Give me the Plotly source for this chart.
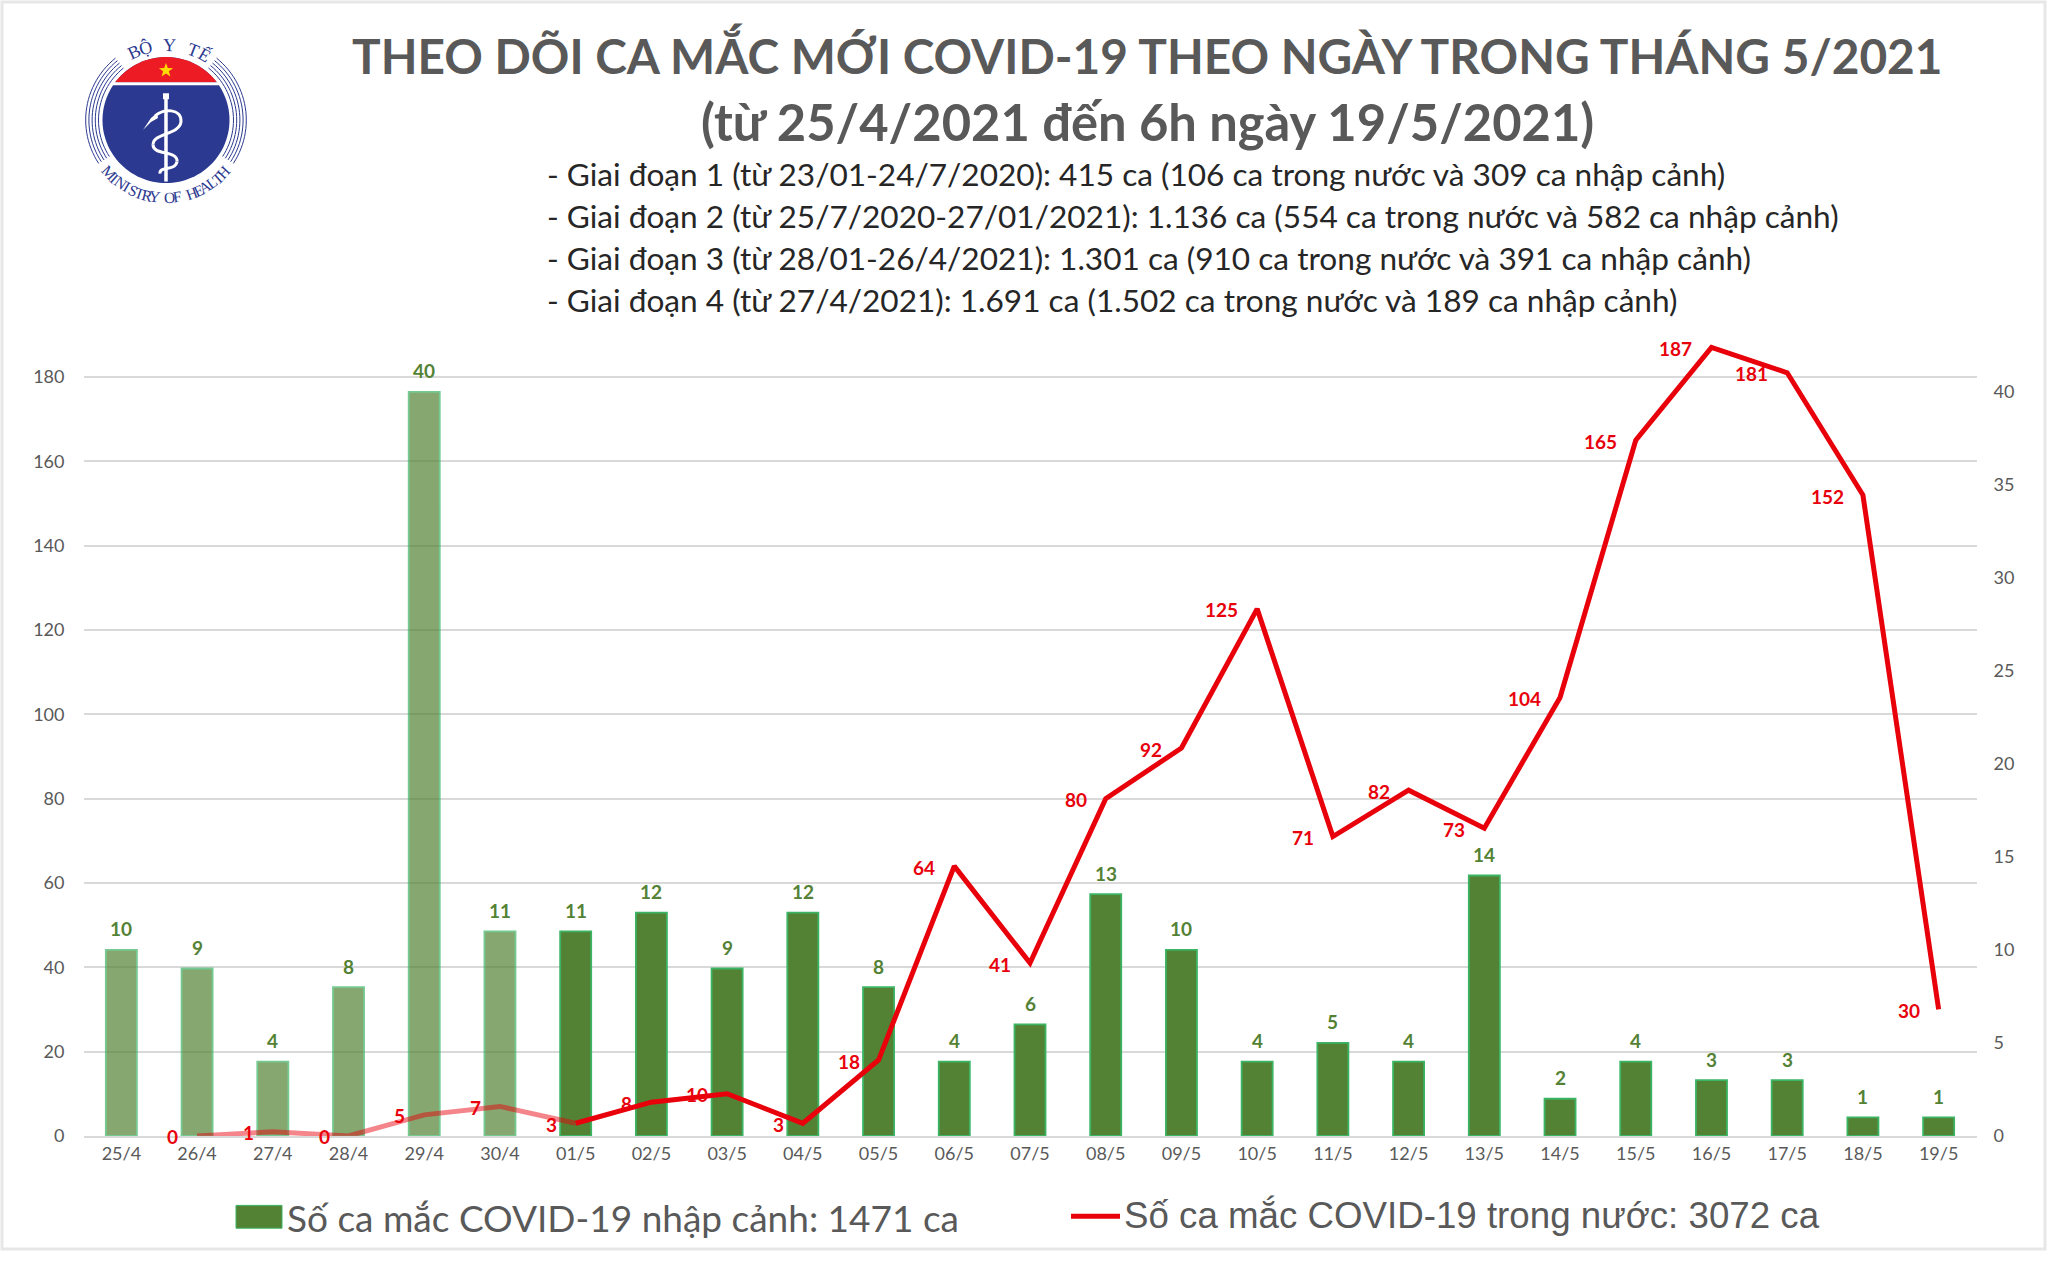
import math
import plotly.graph_objects as go

W, H = 2048, 1263

days = ['25/4', '26/4', '27/4', '28/4', '29/4', '30/4', '01/5', '02/5', '03/5', '04/5', '05/5', '06/5', '07/5',
        '08/5', '09/5', '10/5', '11/5', '12/5', '13/5', '14/5', '15/5', '16/5', '17/5', '18/5', '19/5']
nhap_canh = [10, 9, 4, 8, 40, 11, 11, 12, 9, 12, 8, 4, 6, 13, 10, 4, 5, 4, 14, 2, 4, 3, 3, 1, 1]
trong_nuoc = [None, 0, 1, 0, 5, 7, 3, 8, 10, 3, 18, 64, 41, 80, 92, 125, 71, 82, 73, 104, 165, 187, 181, 152, 30]
n_faded = 6  # first days are washed out in the original

left_ticks = list(range(0, 181, 20))
right_ticks = list(range(0, 41, 5))

title_lines = ['THEO DÕI CA MẮC MỚI COVID-19 THEO NGÀY TRONG THÁNG 5/2021',
               '(từ 25/4/2021 đến 6h ngày 19/5/2021)']
giai_doan = ['- Giai đoạn 1 (từ 23/01-24/7/2020): 415 ca (106 ca trong nước và 309 ca nhập cảnh)',
             '- Giai đoạn 2 (từ 25/7/2020-27/01/2021): 1.136 ca (554 ca trong nước và 582 ca nhập cảnh)',
             '- Giai đoạn 3 (từ 28/01-26/4/2021): 1.301 ca (910 ca trong nước và 391 ca nhập cảnh)',
             '- Giai đoạn 4 (từ 27/4/2021): 1.691 ca (1.502 ca trong nước và 189 ca nhập cảnh)']
legend_bar = 'Số ca mắc COVID-19 nhập cảnh: 1471 ca'
legend_line = 'Số ca mắc COVID-19 trong nước: 3072 ca'
logo_top = 'BỘ Y TẾ'
logo_bottom = 'MINISTRY OF HEALTH'

GREEN = '#548235'
EDGE = '#3BB463'
RED = '#E8000B'
GREY = '#595959'
NAVY = '#2B3990'
FONT = 'Lato'


def px(x):
    return x / W


def py(y):
    return 1 - y / H


def text(x, y, s, size, color=GREY, bold=False, anchor='left', family=FONT, angle=0):
    fig.add_annotation(xref='paper', yref='paper', x=px(x), y=py(y), text=s, showarrow=False, xanchor=anchor,
                       yanchor='middle', textangle=angle,
                       font=dict(family=family, size=size, color=color, weight='bold' if bold else 'normal'))


def path(points, close=False):
    s = 'M' + ' L'.join('%.5f,%.5f' % (px(x), py(y)) for x, y in points)
    return s + (' Z' if close else '')


def curve(start, a, b, c):
    # cubic bezier, pixel coordinates
    return 'M%.5f,%.5f C%.5f,%.5f %.5f,%.5f %.5f,%.5f' % (px(start[0]), py(start[1]), px(a[0]), py(a[1]),
                                                         px(b[0]), py(b[1]), px(c[0]), py(c[1]))


def logo(cx, cy, r):
    def shape(p, fill=None, line=None, width=1):
        fig.add_shape(type='path', xref='paper', yref='paper', path=p, fillcolor=fill,
                      line=dict(color=line, width=width if line else 0))

    # dia xanh
    circle = [(cx + r * math.cos(math.radians(a)), cy - r * math.sin(math.radians(a))) for a in range(0, 360, 3)]
    shape(path(circle, True), fill=NAVY)
    # nap do phia tren
    h = 38
    a0 = math.degrees(math.asin(h / r))
    cap = [(cx + r * math.cos(math.radians(a)), cy - r * math.sin(math.radians(a)))
           for a in [a0 + i * (180 - 2 * a0) / 40 for i in range(41)]]
    shape(path(cap, True), fill='#ED1C24')
    half = math.sqrt(r * r - 36.5 * 36.5)
    shape(path([(cx - half - 1, cy - 36.5), (cx + half + 1, cy - 36.5)]), line='white', width=3)
    # ngoi sao
    star = []
    for i in range(10):
        rr = 7.5 if i % 2 == 0 else 3
        a = math.radians(90 + i * 36)
        star.append((cx + rr * math.cos(a), cy - 50 - rr * math.sin(a)))
    shape(path(star, True), fill='#FFDD00')
    # cac vong cung hai ben
    for k in range(5):
        rr = r + 4 + k * 3.2
        left = [(cx + rr * math.cos(math.radians(a)), cy - rr * math.sin(math.radians(a))) for a in range(129, 215, 3)]
        right = [(2 * cx - x, y) for x, y in left]
        shape(path(left), line=NAVY, width=1)
        shape(path(right), line=NAVY, width=1)
    # gay va ran
    shape(path([(cx, cy - 25), (cx, cy + 62)]), line='white', width=3.5)
    shape(path([(cx, cy - 27), (cx, cy - 21)]), line='white', width=6)
    shape(curve((cx - 11, cy - 4), (cx - 3, cy - 12), (cx + 16, cy - 12), (cx + 15, cy + 2)),
          line='white', width=3)
    shape(curve((cx + 15, cy + 2), (cx + 13, cy + 15), (cx - 13, cy + 13), (cx - 13, cy + 25)),
          line='white', width=3)
    shape(curve((cx - 13, cy + 25), (cx - 13, cy + 36), (cx + 12, cy + 30), (cx + 11, cy + 42)),
          line='white', width=3)
    shape(curve((cx + 11, cy + 42), (cx + 9, cy + 52), (cx - 7, cy + 46), (cx - 6, cy + 54)),
          line='white', width=3)
    shape(path([(cx - 23, cy + 10), (cx - 15, cy - 2), (cx - 9, cy - 7), (cx - 8, cy - 2), (cx - 15, cy + 2)], True),
          fill='white')
    # chu cong theo vong tron
    for i, ch in enumerate(logo_top):
        a = -25 + i * 9.2
        x = cx + 76 * math.sin(math.radians(a))
        y = cy - 76 * math.cos(math.radians(a))
        text(x, y, ch, 18, color=NAVY, anchor='center', family='Liberation Serif', angle=a)
    n = len(logo_bottom)
    for i, ch in enumerate(logo_bottom):
        a = -47 + i * 94 / (n - 1)
        x = cx + 78 * math.sin(math.radians(a))
        y = cy + 78 * math.cos(math.radians(a))
        text(x, y, ch, 15.5, color=NAVY, anchor='center', family='Liberation Serif', angle=-a)


fig = go.Figure()

# trace an chi de giu truc y goc (luoi + nhan ben trai) phia duoi cot
fig.add_trace(go.Scatter(x=days, y=trong_nuoc, mode='lines', showlegend=False, hoverinfo='skip',
                         line=dict(color='rgba(0,0,0,0)', width=0)))
fig.add_trace(go.Bar(x=days, y=nhap_canh, yaxis='y2', width=0.41, showlegend=False,
                     marker=dict(color=GREEN, line=dict(color=EDGE, width=1.8),
                                 opacity=[0.7 if i < n_faded else 1 for i in range(len(days))])))
fig.add_trace(go.Scatter(x=days[:n_faded + 1], y=trong_nuoc[:n_faded + 1], mode='lines', showlegend=False, yaxis='y3',
                         line=dict(color='rgba(232,0,11,0.48)', width=5)))
fig.add_trace(go.Scatter(x=days[n_faded:], y=trong_nuoc[n_faded:], mode='lines', showlegend=False, yaxis='y3',
                         line=dict(color=RED, width=5)))

for d, v in zip(days, nhap_canh):
    fig.add_annotation(x=d, y=v, yref='y2', text=str(v), showarrow=False, yshift=21,
                       font=dict(family=FONT, size=19, color=GREEN, weight='bold'))
for d, v in zip(days, trong_nuoc):
    if v is not None:
        fig.add_annotation(x=d, y=v, yref='y3', text=str(v), showarrow=False, xanchor='right', xshift=-17, yshift=-1,
                           font=dict(family=FONT, size=19, color=RED, weight='bold'))

# thong ke o dau trang
text(1147, 54, title_lines[0], 47.8, bold=True, anchor='center')
text(1147, 122, title_lines[1], 50.7, bold=True, anchor='center')
for i, line in enumerate(giai_doan):
    text(545, 175 + i * 42.3, line, 31.6, color='#262626')

# legend ve tay vi hai muc khac font
fig.add_shape(type='rect', xref='paper', yref='paper', x0=px(236), x1=px(282), y0=py(1215), y1=py(1238),
              fillcolor=GREEN, line=dict(color=EDGE, width=1))
text(285, 1227, legend_bar, 37)
fig.add_shape(type='line', xref='paper', yref='paper', x0=px(1071), x1=px(1120), y0=py(1226), y1=py(1226),
              line=dict(color=RED, width=5))
text(1122, 1225, legend_line, 36.7, family='Liberation Sans')

# vien ngoai
fig.add_shape(type='rect', xref='paper', yref='paper', x0=px(2), x1=px(2045), y0=py(2), y1=py(1259),
              line=dict(color='#E7E7E7', width=3))

logo(166, 121, 63.5)

dom_y = [1 - 1145 / H, 1 - 337 / H]
fig.update_layout(
    width=W, height=H, margin=dict(l=0, r=0, t=0, b=0), plot_bgcolor='white', paper_bgcolor='white',
    showlegend=False,
    xaxis=dict(domain=[px(83.5), px(1976.5)], type='category', categoryorder='array', categoryarray=days,
               tickfont=dict(family=FONT, size=18, color=GREY), ticks='', showgrid=False,
               showline=True, linecolor='#D9D9D9', linewidth=2, anchor='y'),
    yaxis=dict(domain=dom_y, range=[0, 808 / 4.25], tickvals=left_ticks,
               tickfont=dict(family=FONT, size=18, color=GREY), gridcolor='#D9D9D9', gridwidth=2,
               zeroline=False, ticks='', ticklabelstandoff=18),
    yaxis2=dict(domain=dom_y, range=[0, 808 / 18.75], tickvals=right_ticks, overlaying='y',
                side='right', anchor='x', showgrid=False, zeroline=False,
                tickfont=dict(family=FONT, size=18, color=GREY), ticks='', ticklabelstandoff=16),
    yaxis3=dict(domain=dom_y, range=[0, 808 / 4.25], overlaying='y', anchor='x', showgrid=False, zeroline=False,
                showticklabels=False, ticks=''),
)

fig.write_html('out.html', config={'displayModeBar': False}, post_script="document.body.style.margin='0';")
